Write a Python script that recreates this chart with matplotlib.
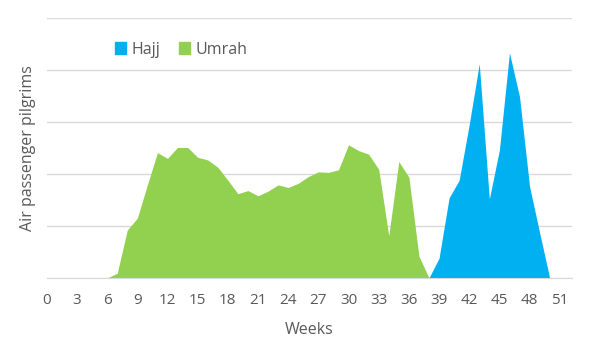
import numpy as np
import matplotlib.pyplot as plt
from matplotlib.patches import Patch

plt.rcParams['font.family'] = ['Open Sans', 'DejaVu Sans']

weeks = list(range(0, 53))

# values, in gridline units (0-5)
umrah_weeks = list(range(0, 39))
umrah = [0, 0, 0, 0, 0, 0, 0, 0.09, 0.92, 1.15, 1.79, 2.41, 2.30, 2.51, 2.51,
         2.32, 2.27, 2.13, 1.88, 1.62, 1.68, 1.58, 1.67, 1.79, 1.74, 1.82,
         1.95, 2.04, 2.03, 2.08, 2.56, 2.45, 2.38, 2.09, 0.81, 2.24, 1.94,
         0.42, 0]

hajj_weeks = list(range(38, 51))
hajj = [0, 0.38, 1.54, 1.88, 2.95, 4.12, 1.52, 2.46, 4.33, 3.49, 1.76, 0.87, 0]

hajj_color = '#00B0F0'
umrah_color = '#92D050'
text_color = '#595959'
grid_color = '#D9D9D9'

fig = plt.figure(figsize=(6, 3.6), dpi=100)
ax = fig.add_axes([0.078, 0.228, 0.875, 0.722])

ax.fill_between(umrah_weeks, umrah, 0, color=umrah_color, linewidth=0)
ax.fill_between(hajj_weeks, hajj, 0, color=hajj_color, linewidth=0)

ax.set_xlim(0, 52.2)
ax.set_ylim(0, 5)
ax.set_xticks(weeks[::3])
ax.set_yticks(range(0, 6))
ax.set_yticklabels([])
ax.tick_params(axis='both', length=0, colors=text_color, labelsize=11)
ax.tick_params(axis='x', pad=11)
ax.grid(axis='y', color=grid_color, linewidth=1)
ax.set_axisbelow(True)
for s in ['top', 'right', 'left']:
    ax.spines[s].set_visible(False)
ax.spines['bottom'].set_color(grid_color)

ax.set_xlabel('Weeks', color=text_color, fontsize=11.5, labelpad=10)
ax.set_ylabel('Air passenger pilgrims', color=text_color, fontsize=11.5, labelpad=4)

handles = [Patch(color=hajj_color, label='Hajj'), Patch(color=umrah_color, label='Umrah')]
leg = fig.legend(handles=handles, loc='center left', bbox_to_anchor=(0.168, 0.862),
                 ncol=2, frameon=False, fontsize=11.5, handlelength=0.7,
                 handleheight=0.7, handletextpad=0.3, columnspacing=1.2)
for t in leg.get_texts():
    t.set_color(text_color)

fig.savefig('out.png', dpi=100)
